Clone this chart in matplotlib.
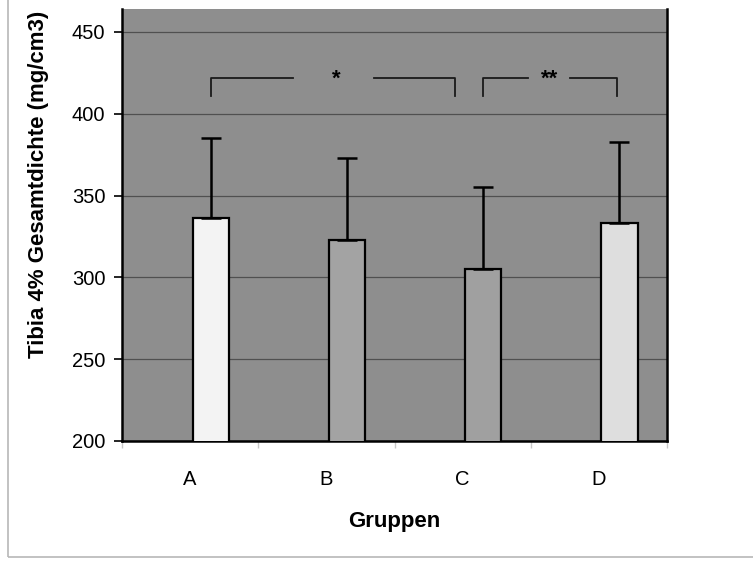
import numpy as np
import matplotlib.pyplot as plt
from matplotlib.patches import Rectangle

plt.rcParams['font.family'] = ['Liberation Sans', 'DejaVu Sans']

# data
gruppen = ['A', 'B', 'C', 'D']
mittel = [336, 323, 305, 333]
sd = [49, 50, 50, 50]
farben = ['#f3f3f3', '#a3a3a3', '#a0a0a0', '#dedede']

fig = plt.figure(figsize=(7.53, 5.61), dpi=100)
fig.patch.set_facecolor('white')
# light frame round the chart
fig.patches.append(Rectangle((0.011, 0.007), 1.2, 1.2, transform=fig.transFigure,
                             fill=False, edgecolor='#b8b8b8', lw=1.2))

ax = fig.add_axes([0.162, 0.214, 0.724, 0.770])
ax.set_facecolor('#8e8e8e')

x = np.arange(len(gruppen))
pos = x + 0.15
ax.bar(pos, mittel, width=0.265, bottom=0, color=farben, edgecolor='black',
       linewidth=1.6, zorder=3)
ax.errorbar(pos, mittel, yerr=[np.zeros(len(sd)), sd], fmt='none', ecolor='black',
            elinewidth=1.8, capsize=7, capthick=1.8, zorder=4)

ax.set_ylim(200, 464)
ax.set_xlim(-0.5, 3.5)
ax.set_yticks([200, 250, 300, 350, 400, 450])
ax.yaxis.grid(True, color='#505050', lw=0.9, zorder=1)
ax.set_axisbelow(True)

# category ticks between groups, labels in the middle
ax.set_xticks(np.arange(-0.5, 4, 1))
ax.set_xticklabels([])
ax.set_xticks(x, minor=True)
ax.set_xticklabels(gruppen, minor=True, fontsize=14.5)
ax.tick_params(axis='x', which='major', length=5, color='#c8c8c8', width=1)
ax.tick_params(axis='x', which='minor', length=0, pad=21)
ax.tick_params(axis='y', length=6, width=1.2, labelsize=14.5, pad=6)

for s in ['left', 'bottom', 'right']:
    ax.spines[s].set_linewidth(1.8)
    ax.spines[s].set_color('black')
ax.spines['top'].set_visible(False)

ax.set_ylabel('Tibia 4% Gesamtdichte (mg/cm3)', fontsize=16, fontweight='bold')
ax.yaxis.set_label_coords(-0.134, 0.595)
ax.set_xlabel('Gruppen', fontsize=16, fontweight='bold')
ax.xaxis.set_label_coords(0.5, -0.162)

# significance brackets
yb, yt = 422, 411
kw = dict(color='#1a1a1a', lw=1.3, zorder=5)
ax.plot([pos[0], pos[0], 0.755], [yt, yb, yb], **kw)
ax.plot([1.35, 1.944, 1.944], [yb, yb, yt], **kw)
ax.text(1.07, yb - 1, '*', ha='center', va='center', fontsize=16, fontweight='bold', zorder=5)
ax.plot([pos[2], pos[2], 2.48], [yt, yb, yb], **kw)
ax.plot([2.79, pos[3] - 0.015, pos[3] - 0.015], [yb, yb, yt], **kw)
ax.text(2.635, yb - 1, '**', ha='center', va='center', fontsize=16, fontweight='bold', zorder=5)

plt.savefig('out.png', dpi=100)
